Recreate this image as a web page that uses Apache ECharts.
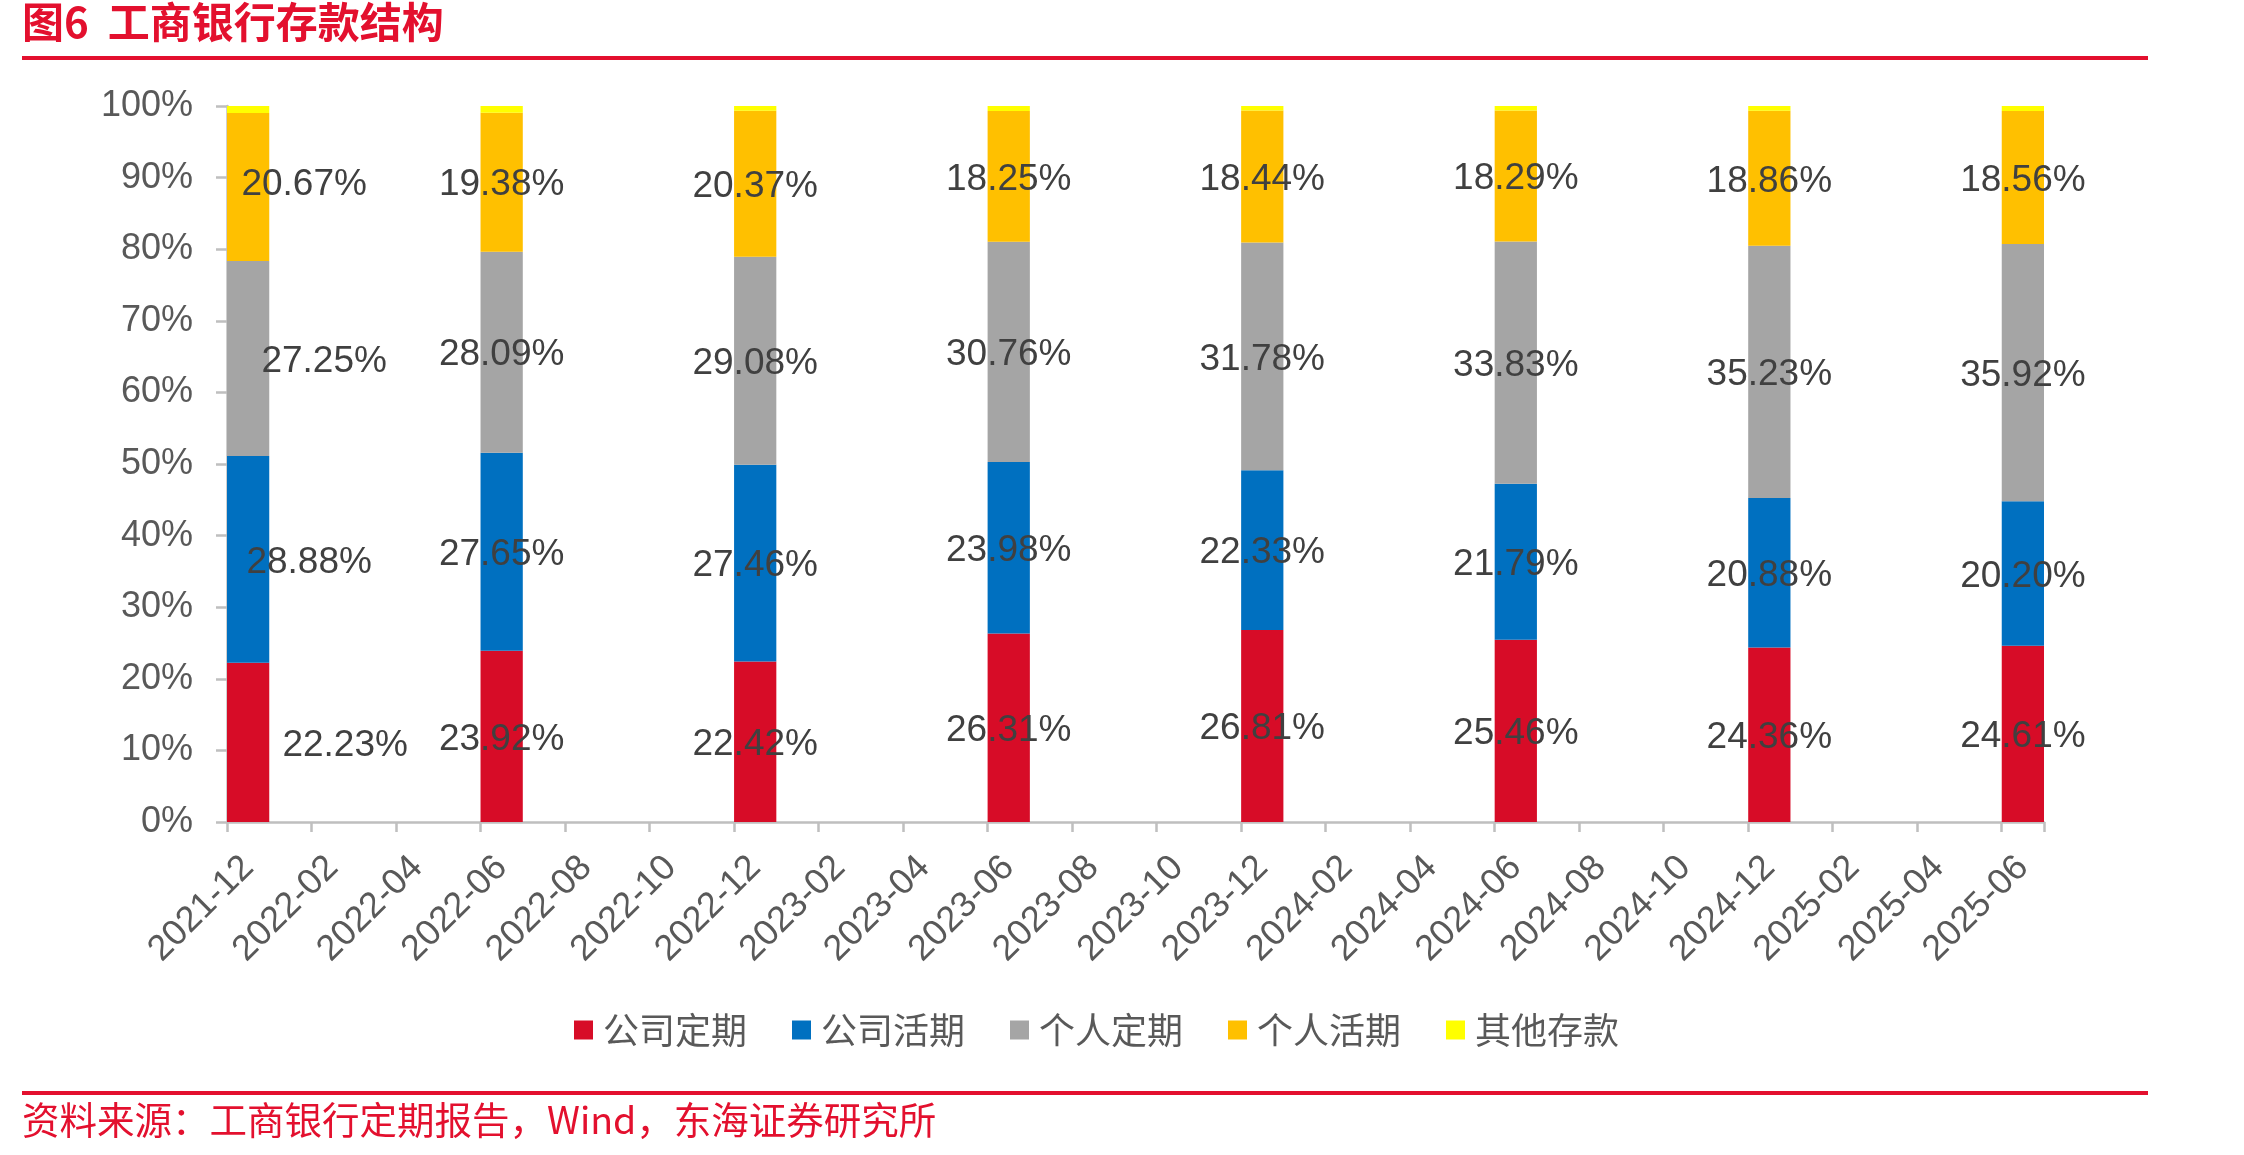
<!DOCTYPE html>
<html>
<head>
<meta charset="utf-8">
<title>工商银行存款结构</title>
<script src="https://cdn.jsdelivr.net/npm/echarts@6/dist/echarts.min.js"></script>
<style>
  html, body { margin: 0; padding: 0; background: #fff; }
  #chart { width: 2244px; height: 1155px; }
</style>
</head>
<body>
<div id="chart"></div>
<script>
// 报告期（半年一次）
var reportDates = ['2021-12', '2022-06', '2022-12', '2023-06', '2023-12', '2024-06', '2024-12', '2025-06'];

// 各类存款占比（%）
var corpTime   = [22.23, 23.92, 22.42, 26.31, 26.81, 25.46, 24.36, 24.61];  // 公司定期
var corpDemand = [28.88, 27.65, 27.46, 23.98, 22.33, 21.79, 20.88, 20.20];  // 公司活期
var persTime   = [27.25, 28.09, 29.08, 30.76, 31.78, 33.83, 35.23, 35.92];  // 个人定期
var persDemand = [20.67, 19.38, 20.37, 18.25, 18.44, 18.29, 18.86, 18.56];  // 个人活期
var others     = [0.97, 0.96, 0.67, 0.70, 0.64, 0.63, 0.67, 0.71];          // 其他存款

var seriesNames = ['公司定期', '公司活期', '个人定期', '个人活期', '其他存款'];
var yTicks = [0, 10, 20, 30, 40, 50, 60, 70, 80, 90, 100];

/**
 * 生成月度类目 yyyy-MM
 */
function monthRange(start, end) {
  var list = [];
  var y = +start.substr(0, 4), m = +start.substr(5, 2);
  var ey = +end.substr(0, 4), em = +end.substr(5, 2);
  while (y < ey || (y === ey && m <= em)) {
    list.push(y + '-' + (m < 10 ? '0' + m : m));
    m++;
    if (m > 12) { m = 1; y++; }
  }
  return list;
}

var months = monthRange(reportDates[0], reportDates[reportDates.length - 1]);

var colors = ['#D70C27', '#0070C0', '#A5A5A5', '#FFC000', '#FFFF00'];

// 第一根柱子的标签在原图里被手动挪到了右边
var firstLabelOffset = [[97, 3], [61, 3], [76, 3], [56, -2], [0, 0]];

function buildData(values, sIdx) {
  return months.map(function(m) {
    var idx = reportDates.indexOf(m);
    if (idx < 0) return null;
    if (idx === 0) {
      return { value: values[idx], label: { offset: firstLabelOffset[sIdx] } };
    }
    return values[idx];
  });
}

var allValues = [corpTime, corpDemand, persTime, persDemand, others];

var series = allValues.map(function(values, i) {
  return {
    name: seriesNames[i],
    type: 'bar',
    stack: 'total',
    barCategoryGap: '0%',
    itemStyle: { color: colors[i] },
    label: {
      show: i < 4,
      position: 'inside',
      offset: [0, 3],
      color: '#404040',
      fontSize: 37,
      fontFamily: 'Liberation Sans, Arial, sans-serif',
      formatter: function(p) { return p.value.toFixed(2) + '%'; }
    },
    data: buildData(values, i)
  };
});

var RED = '#E3102E';
var axisGray = '#BFBFBF';

var option = {
  animation: false,
  backgroundColor: '#fff',
  color: colors,
  grid: { left: 227, right: 200, top: 106, bottom: 333, containLabel: false },
  legend: {
    left: 569,
    top: 1007,
    icon: 'rect',
    itemWidth: 19,
    itemHeight: 19,
    itemGap: 45,
    textStyle: {
      fontSize: 36,
      color: '#595959',
      fontFamily: 'Noto Sans CJK SC, sans-serif',
      padding: [0, 0, 0, 5]
    },
    data: seriesNames
  },
  xAxis: {
    type: 'category',
    data: months,
    boundaryGap: true,
    axisLine: { lineStyle: { color: axisGray, width: 2.5 } },
    axisTick: { show: true, interval: 1, alignWithLabel: false, length: 10, lineStyle: { color: axisGray, width: 2.5 } },
    axisLabel: {
      interval: 1,
      rotate: 45,
      margin: 40,
      fontSize: 36,
      color: '#595959',
      fontFamily: 'Liberation Sans, Arial, sans-serif'
    },
    splitLine: { show: false }
  },
  yAxis: {
    type: 'value',
    min: yTicks[0],
    max: yTicks[yTicks.length - 1],
    interval: yTicks[1] - yTicks[0],
    axisLine: { show: true, lineStyle: { color: axisGray, width: 2.5 } },
    axisTick: { show: true, length: 11, lineStyle: { color: axisGray, width: 2.5 } },
    axisLabel: {
      margin: 34,
      fontSize: 36,
      color: '#595959',
      fontFamily: 'Liberation Sans, Arial, sans-serif',
      formatter: '{value}%'
    },
    splitLine: { show: false }
  },
  graphic: [
    {
      type: 'text',
      left: 22,
      top: 1,
      style: {
        text: '图6  工商银行存款结构',
        fill: RED,
        font: 'bold 42px "Noto Sans CJK SC", sans-serif'
      }
    },
    {
      type: 'rect',
      shape: { x: 22, y: 56, width: 2126, height: 4 },
      style: { fill: RED }
    },
    {
      type: 'rect',
      shape: { x: 22, y: 1091, width: 2126, height: 4 },
      style: { fill: RED }
    },
    {
      type: 'text',
      left: 22,
      top: 1101,
      style: {
        text: '资料来源：工商银行定期报告，Wind，东海证券研究所',
        fill: RED,
        font: '37.5px "Noto Sans CJK SC", sans-serif'
      }
    }
  ],
  series: series
};

var chart = echarts.init(document.getElementById('chart'));
chart.setOption(option);
</script>
</body>
</html>
